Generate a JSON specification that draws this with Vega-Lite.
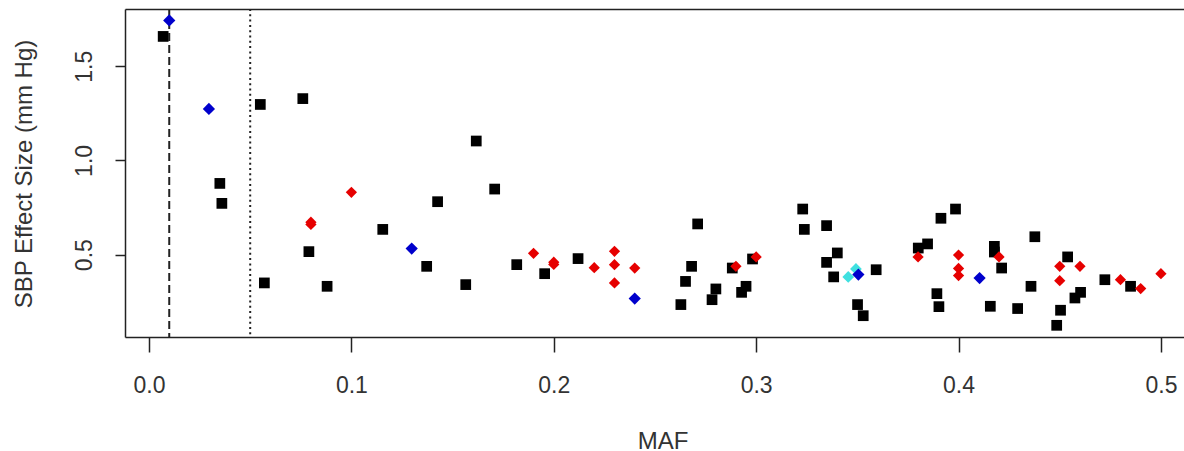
{
  "$schema": "https://vega.github.io/schema/vega-lite/v6.json",
  "width": 1059,
  "height": 328,
  "autosize": {"type": "none"},
  "padding": {"left": 125, "top": 9, "right": 0, "bottom": 114},
  "background": "white",
  "config": {
    "view": {"stroke": null},
    "font": "Liberation Sans",
    "axis": {"grid": false, "domainColor": "#222", "domainWidth": 1.5, "tickColor": "#222", "tickWidth": 1.5, "labelColor": "#333", "titleColor": "#333", "labelFont": "Liberation Sans", "titleFont": "Liberation Sans", "titleFontWeight": "normal"}
  },
  "resolve": {"axis": {"x": "independent"}},
  "layer": [
    {
      "data": {"values": [{"MAF": 0.01, "kind": "dashed"}, {"MAF": 0.05, "kind": "dotted"}]},
      "mark": {"type": "rule", "color": "#222", "strokeWidth": 2},
      "encoding": {
        "x": {"field": "MAF", "type": "quantitative", "scale": {"domain": [-0.01186, 0.5114], "nice": false, "zero": false},
              "axis": {"orient": "top", "labels": false, "ticks": false, "title": null, "domain": true}},
        "strokeDash": {"field": "kind", "type": "nominal", "scale": {"domain": ["dashed", "dotted"], "range": [[8, 4], [2, 3.3]]}, "legend": null}
      }
    },
    {
      "data": {"values": [
        {"MAF": 0.007, "SBP": 1.658, "group": "black"},
        {"MAF": 0.055, "SBP": 1.297, "group": "black"},
        {"MAF": 0.076, "SBP": 1.328, "group": "black"},
        {"MAF": 0.035, "SBP": 0.878, "group": "black"},
        {"MAF": 0.036, "SBP": 0.772, "group": "black"},
        {"MAF": 0.079, "SBP": 0.516, "group": "black"},
        {"MAF": 0.057, "SBP": 0.35, "group": "black"},
        {"MAF": 0.088, "SBP": 0.332, "group": "black"},
        {"MAF": 0.1155, "SBP": 0.634, "group": "black"},
        {"MAF": 0.1426, "SBP": 0.781, "group": "black"},
        {"MAF": 0.1372, "SBP": 0.438, "group": "black"},
        {"MAF": 0.1617, "SBP": 1.103, "group": "black"},
        {"MAF": 0.1708, "SBP": 0.848, "group": "black"},
        {"MAF": 0.1565, "SBP": 0.341, "group": "black"},
        {"MAF": 0.1817, "SBP": 0.447, "group": "black"},
        {"MAF": 0.1955, "SBP": 0.399, "group": "black"},
        {"MAF": 0.212, "SBP": 0.479, "group": "black"},
        {"MAF": 0.2711, "SBP": 0.663, "group": "black"},
        {"MAF": 0.2681, "SBP": 0.438, "group": "black"},
        {"MAF": 0.2651, "SBP": 0.358, "group": "black"},
        {"MAF": 0.2628, "SBP": 0.235, "group": "black"},
        {"MAF": 0.2801, "SBP": 0.318, "group": "black"},
        {"MAF": 0.2782, "SBP": 0.261, "group": "black"},
        {"MAF": 0.2882, "SBP": 0.429, "group": "black"},
        {"MAF": 0.295, "SBP": 0.332, "group": "black"},
        {"MAF": 0.2928, "SBP": 0.3, "group": "black"},
        {"MAF": 0.2982, "SBP": 0.477, "group": "black"},
        {"MAF": 0.323, "SBP": 0.742, "group": "black"},
        {"MAF": 0.3238, "SBP": 0.634, "group": "black"},
        {"MAF": 0.3348, "SBP": 0.654, "group": "black"},
        {"MAF": 0.3401, "SBP": 0.509, "group": "black"},
        {"MAF": 0.3348, "SBP": 0.459, "group": "black"},
        {"MAF": 0.3383, "SBP": 0.382, "group": "black"},
        {"MAF": 0.3593, "SBP": 0.42, "group": "black"},
        {"MAF": 0.3501, "SBP": 0.235, "group": "black"},
        {"MAF": 0.3529, "SBP": 0.176, "group": "black"},
        {"MAF": 0.3801, "SBP": 0.535, "group": "black"},
        {"MAF": 0.3847, "SBP": 0.557, "group": "black"},
        {"MAF": 0.3913, "SBP": 0.693, "group": "black"},
        {"MAF": 0.3985, "SBP": 0.742, "group": "black"},
        {"MAF": 0.3893, "SBP": 0.293, "group": "black"},
        {"MAF": 0.3903, "SBP": 0.224, "group": "black"},
        {"MAF": 0.4177, "SBP": 0.544, "group": "black"},
        {"MAF": 0.4177, "SBP": 0.514, "group": "black"},
        {"MAF": 0.4213, "SBP": 0.429, "group": "black"},
        {"MAF": 0.4157, "SBP": 0.226, "group": "black"},
        {"MAF": 0.4292, "SBP": 0.214, "group": "black"},
        {"MAF": 0.4377, "SBP": 0.595, "group": "black"},
        {"MAF": 0.4358, "SBP": 0.332, "group": "black"},
        {"MAF": 0.4539, "SBP": 0.488, "group": "black"},
        {"MAF": 0.4603, "SBP": 0.3, "group": "black"},
        {"MAF": 0.4575, "SBP": 0.27, "group": "black"},
        {"MAF": 0.4504, "SBP": 0.205, "group": "black"},
        {"MAF": 0.4485, "SBP": 0.125, "group": "black"},
        {"MAF": 0.4723, "SBP": 0.367, "group": "black"},
        {"MAF": 0.485, "SBP": 0.332, "group": "black"},
        {"MAF": 0.08, "SBP": 0.66, "group": "red"},
        {"MAF": 0.08, "SBP": 0.672, "group": "red"},
        {"MAF": 0.1, "SBP": 0.831, "group": "red"},
        {"MAF": 0.19, "SBP": 0.507, "group": "red"},
        {"MAF": 0.2, "SBP": 0.448, "group": "red"},
        {"MAF": 0.2, "SBP": 0.46, "group": "red"},
        {"MAF": 0.22, "SBP": 0.431, "group": "red"},
        {"MAF": 0.23, "SBP": 0.518, "group": "red"},
        {"MAF": 0.23, "SBP": 0.447, "group": "red"},
        {"MAF": 0.23, "SBP": 0.35, "group": "red"},
        {"MAF": 0.24, "SBP": 0.429, "group": "red"},
        {"MAF": 0.29, "SBP": 0.438, "group": "red"},
        {"MAF": 0.3, "SBP": 0.488, "group": "red"},
        {"MAF": 0.38, "SBP": 0.488, "group": "red"},
        {"MAF": 0.4, "SBP": 0.498, "group": "red"},
        {"MAF": 0.4, "SBP": 0.427, "group": "red"},
        {"MAF": 0.4, "SBP": 0.389, "group": "red"},
        {"MAF": 0.42, "SBP": 0.488, "group": "red"},
        {"MAF": 0.45, "SBP": 0.438, "group": "red"},
        {"MAF": 0.45, "SBP": 0.362, "group": "red"},
        {"MAF": 0.46, "SBP": 0.438, "group": "red"},
        {"MAF": 0.48, "SBP": 0.367, "group": "red"},
        {"MAF": 0.49, "SBP": 0.32, "group": "red"},
        {"MAF": 0.5, "SBP": 0.399, "group": "red"},
        {"MAF": 0.3455, "SBP": 0.382, "group": "cyan"},
        {"MAF": 0.3493, "SBP": 0.424, "group": "cyan"},
        {"MAF": 0.01, "SBP": 1.743, "group": "blue"},
        {"MAF": 0.0296, "SBP": 1.273, "group": "blue"},
        {"MAF": 0.1298, "SBP": 0.532, "group": "blue"},
        {"MAF": 0.24, "SBP": 0.267, "group": "blue"},
        {"MAF": 0.3505, "SBP": 0.394, "group": "blue"},
        {"MAF": 0.4104, "SBP": 0.376, "group": "blue"}
      ]},
      "mark": {"type": "point", "filled": true, "opacity": 1, "strokeWidth": 0},
      "encoding": {
        "x": {"field": "MAF", "type": "quantitative", "scale": {"domain": [-0.01186, 0.5114], "nice": false, "zero": false},
              "axis": {"orient": "bottom", "values": [0, 0.1, 0.2, 0.3, 0.4, 0.5], "format": ".1f", "tickSize": 15, "labelFontSize": 23, "labelBaseline": "alphabetic", "labelPadding": 40.7, "labelFlush": false, "labelOverlap": false,
                       "title": "MAF", "titleFontSize": 24, "titleX": 537.5, "titleY": 111, "titleBaseline": "alphabetic", "titleAlign": "center"}},
        "y": {"field": "SBP", "type": "quantitative", "scale": {"domain": [0.063, 1.8035], "nice": false, "zero": false},
              "axis": {"orient": "left", "values": [0.5, 1.0, 1.5], "format": ".1f", "tickSize": 10, "labelFontSize": 23, "labelAngle": 270, "labelAlign": "center", "labelBaseline": "alphabetic", "labelPadding": 23.3, "labelFlush": false, "labelOverlap": false,
                       "title": "SBP Effect Size (mm Hg)", "titleFontSize": 24, "titleAngle": 270, "titleX": -93.3, "titleY": 164.5, "titleBaseline": "alphabetic", "titleAlign": "center"}},
        "color": {"field": "group", "type": "nominal", "scale": {"domain": ["black", "red", "cyan", "blue"], "range": ["#000000", "#e60000", "#40e0e0", "#0000cc"]}, "legend": null},
        "shape": {"field": "group", "type": "nominal", "scale": {"domain": ["black", "red", "cyan", "blue"], "range": ["square", "diamond", "diamond", "diamond"]}, "legend": null},
        "size": {"field": "group", "type": "nominal", "scale": {"domain": ["black", "red", "cyan", "blue"], "range": [115, 150, 150, 72]}, "legend": null}
      }
    }
  ]
}
